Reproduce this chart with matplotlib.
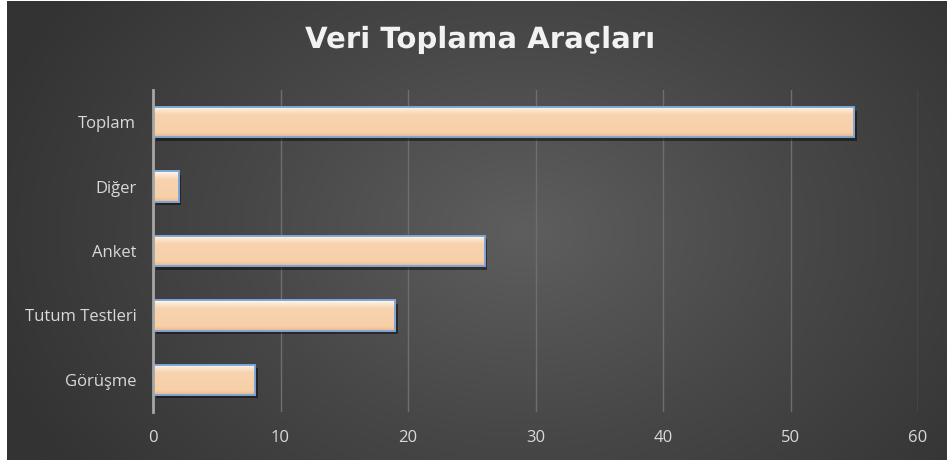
import numpy as np
import matplotlib
matplotlib.use("Agg")
import matplotlib.pyplot as plt
import matplotlib.patheffects as pe
from matplotlib.colors import LinearSegmentedColormap

categories = ["Görüşme", "Tutum Testleri", "Anket", "Diğer", "Toplam"]
values = [8, 19, 26, 2, 55]
xticks = [0, 10, 20, 30, 40, 50, 60]
title = "Veri Toplama Araçları"

plt.rcParams['font.family'] = ['Open Sans', 'DejaVu Sans']

W, H = 947, 462
fig = plt.figure(figsize=(W/100, H/100), dpi=100)
fig.patch.set_facecolor("white")

# background radial gradient
bg = fig.add_axes([7/W, 2/H, 1-7/W, 1-3/H])
bg.set_axis_off()
ny, nx = 300, 600
yy, xx = np.mgrid[0:ny, 0:nx]
cx, cy = nx*0.55, ny*0.5
r = np.sqrt(((xx-cx)/(nx*0.6))**2 + ((yy-cy)/(ny*0.9))**2)
r = np.clip(r, 0, 1)
bgcmap = LinearSegmentedColormap.from_list("bg", ["#5e5e5e", "#474747", "#333333"])
bg.imshow(r, cmap=bgcmap, aspect="auto", extent=[0, 1, 0, 1], vmin=0, vmax=1)
bg.set_xlim(0, 1); bg.set_ylim(0, 1)

ax = fig.add_axes([153/W, 1-412/H, (918-153)/W, (412-90)/H])
ax.patch.set_alpha(0)
ypos = np.arange(len(categories))
bars = ax.barh(ypos, values, height=0.47, color="#f8d3ae", edgecolor="#7aa3d6",
               linewidth=1.3, zorder=3,
               path_effects=[pe.SimplePatchShadow(offset=(2, -2.5), alpha=0.45, shadow_rgbFace="black"), pe.Normal()])

grad = np.linspace(0, 1, 100).reshape(-1, 1)
barcmap = LinearSegmentedColormap.from_list(
    "bar", [(0, "#fff8f0"), (0.14, "#fbe4cb"), (0.28, "#f8d3ae"), (0.85, "#f7d0a9"), (1.0, "#e6b98f")])
for b in bars:
    x0, y0, w, h = b.get_x(), b.get_y(), b.get_width(), b.get_height()
    im = ax.imshow(grad, cmap=barcmap, aspect="auto", extent=[x0, x0+w, y0, y0+h],
                   origin="upper", zorder=3.5)
    im.set_clip_path(b)
    ax.add_patch(plt.Rectangle((x0, y0), w, h, fill=False, edgecolor="#7aa3d6", lw=1.3, zorder=4))

ax.set_xlim(0, 60)
ax.set_ylim(-0.5, len(categories)-0.5)
ax.set_xticks(xticks)
ax.set_yticks(ypos)
ax.set_yticklabels(categories)
for s in ["top", "right", "bottom"]:
    ax.spines[s].set_visible(False)
ax.spines["left"].set_color("#a6a6a6")
ax.spines["left"].set_linewidth(2)
ax.spines["left"].set_zorder(5)
ax.xaxis.grid(True, color="#6e6e6e", linewidth=1)
ax.set_axisbelow(True)
ax.tick_params(axis="both", length=0, colors="#d9d9d9", labelsize=12)
ax.tick_params(axis="x", pad=13)
ax.tick_params(axis="y", pad=12)

fig.text(480/W, 1-40/H, title, ha="center", va="center", color="#f2f2f2",
         fontsize=21, fontweight="bold", family=["DejaVu Sans"],
         path_effects=[pe.withSimplePatchShadow() if False else pe.SimpleLineShadow(offset=(1.5, -1.5), alpha=0.5), pe.Normal()])

fig.savefig("out.png", dpi=100)
